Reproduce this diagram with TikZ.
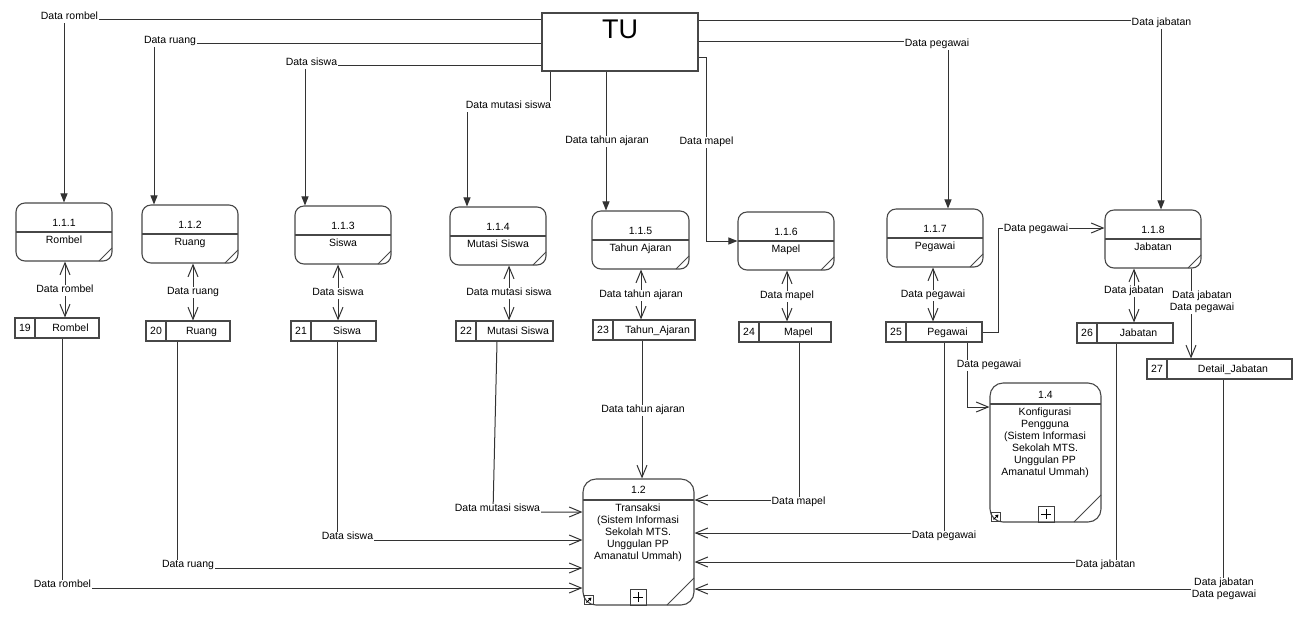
\documentclass[tikz,border=0pt]{standalone}
\usepackage{fontspec}
\setmainfont{Liberation Sans}
\usetikzlibrary{arrows.meta}
\tikzset{
  lbl/.style={font=\fontsize{10.5}{12}\selectfont, inner sep=0.6pt, fill=white, text height=7.6pt, text depth=2.2pt},
  lbltwo/.style={font=\fontsize{10.5}{12}\selectfont, inner sep=0.6pt, fill=white, align=center},
  txt/.style={font=\fontsize{10.5}{12}\selectfont, inner sep=0pt, text height=7.6pt, text depth=2.2pt},
  boxline/.style={draw=black!72, line width=1.1pt},
  foldline/.style={draw=black!72, line width=0.8pt},
  procbox/.style={boxline, rounded corners=9pt, inner sep=0pt},
  bigproc/.style={boxline, rounded corners=13pt, inner sep=0pt},
  storebox/.style={boxline, inner sep=0pt},
  conn/.style={draw=black!80, line width=1pt},
  farrow/.style={conn, -{Triangle[length=9pt,width=7pt]}},
  oarrow/.style={conn, -{Straight Barb[length=12pt,width=10pt]}},
  bidir/.style={conn, {Straight Barb[length=12pt,width=10pt]}-{Straight Barb[length=12pt,width=10pt]}},
}
\newcommand\ProcBox[8]{%
  \node[procbox, minimum width={(#4-#2)*1pt}, minimum height={(#5-#3)*1pt}] (#1) at ({(#2+#4)/2},{(#3+#5)/2}) {};
  \draw[boxline] (#2,#6) -- (#4,#6);
  \draw[foldline] (#4,{#5-13}) -- ({#4-13},#5);
  \node[txt] (#1-id) at ({(#2+#4)/2},{#6-8}) {#7};
  \node[txt] (#1-nm) at ({(#2+#4)/2},{#6+9}) {#8};
}
\newcommand\StoreBox[7]{%
  \node[storebox, minimum width={(#4-#2)*1pt}, minimum height={(#5-#3)*1pt}] (#1) at ({(#2+#4)/2},{(#3+#5)/2}) {};
  \draw[boxline] ({#2+20},#3) -- ({#2+20},#5);
  \node[txt] (#1-id) at ({#2+10},{(#3+#5)/2+1}) {#6};
  \node[txt] (#1-nm) at ({(#2+#4)/2+13.5},{(#3+#5)/2+1}) {#7};
}
\begin{document}
\begin{tikzpicture}[x=1pt,y=-1pt]
\useasboundingbox[fill=white] (0,0) rectangle (1303,625);

% external entity
\node[boxline, minimum width=156pt, minimum height=58pt, inner sep=0pt] (tu) at (620,42) {};
\node[font=\fontsize{27}{30}\selectfont, inner sep=0pt] (tut) at (620,29) {TU};

% processes
\ProcBox{p111}{16}{203}{112}{261}{232}{1.1.1}{Rombel}
\ProcBox{p112}{142}{205}{238}{263}{234}{1.1.2}{Ruang}
\ProcBox{p113}{295}{206}{391}{264}{235}{1.1.3}{Siswa}
\ProcBox{p114}{450}{207}{546}{265}{236}{1.1.4}{Mutasi Siswa}
\ProcBox{p115}{592}{211}{689}{269}{240}{1.1.5}{Tahun Ajaran}
\ProcBox{p116}{738}{212}{834}{270}{241}{1.1.6}{Mapel}
\ProcBox{p117}{887}{209}{983}{267}{238}{1.1.7}{Pegawai}
\ProcBox{p118}{1105}{210}{1201}{268}{239}{1.1.8}{Jabatan}

% data stores
\StoreBox{s19}{15}{318}{99}{338}{19}{Rombel}
\StoreBox{s20}{146}{321}{230}{341}{20}{Ruang}
\StoreBox{s21}{291}{321}{376}{341}{21}{Siswa}
\StoreBox{s22}{456}{321}{553}{341}{22}{Mutasi Siswa}
\StoreBox{s23}{593}{320}{695}{340}{23}{Tahun\_Ajaran}
\StoreBox{s24}{739}{322}{831}{342}{24}{Mapel}
\StoreBox{s25}{886}{322}{982}{342}{25}{Pegawai}
\StoreBox{s26}{1077}{323}{1173}{343}{26}{Jabatan}
\StoreBox{s27}{1147}{359}{1292}{379}{27}{Detail\_Jabatan}

% process 1.2
\node[bigproc, minimum width=111pt, minimum height=126pt] (p12) at (638.5,542) {};
\draw[boxline] (583,500) -- (694,500);
\draw[foldline] (694,578) -- (667,605);
\node[txt] (p12-id) at (638.5,491) {1.2};
\node[txt] (p12-a) at (638,509) {Transaksi};
\node[txt] (p12-b) at (638,521) {(Sistem Informasi};
\node[txt] (p12-c) at (638,533) {Sekolah MTS.};
\node[txt] (p12-d) at (638,545) {Unggulan PP};
\node[txt] (p12-e) at (638,557) {Amanatul Ummah)};
\node[draw=black!75, line width=0.9pt, minimum size=16pt, inner sep=0pt] (p12-plus) at (638,597) {};
\draw[line width=0.9pt] (633,597) -- (643,597) (638,592) -- (638,602);
\node[draw=black!75, line width=0.6pt, minimum size=9pt, inner sep=0pt] (p12-icon) at (589,600) {};
\draw[line width=0.8pt, -{Triangle[length=3pt,width=3.5pt]}] (586.5,602.5) -- (591.5,597.5);

% process 1.4
\node[bigproc, minimum width=111pt, minimum height=139pt] (p14) at (1045.5,452.5) {};
\draw[boxline] (990,404) -- (1101,404);
\draw[foldline] (1101,495) -- (1074,522);
\node[txt] (p14-id) at (1045.5,396) {1.4};
\node[txt] (p14-a) at (1045,413) {Konfigurasi};
\node[txt] (p14-b) at (1045,425) {Pengguna};
\node[txt] (p14-c) at (1045,437) {(Sistem Informasi};
\node[txt] (p14-d) at (1045,449) {Sekolah MTS.};
\node[txt] (p14-e) at (1045,461) {Unggulan PP};
\node[txt] (p14-f) at (1045,473) {Amanatul Ummah)};
\node[draw=black!75, line width=0.9pt, minimum size=16pt, inner sep=0pt] (p14-plus) at (1046,514) {};
\draw[line width=0.9pt] (1041,514) -- (1051,514) (1046,509) -- (1046,519);
\node[draw=black!75, line width=0.6pt, minimum size=9pt, inner sep=0pt] (p14-icon) at (996,517) {};
\draw[line width=0.8pt, -{Triangle[length=3pt,width=3.5pt]}] (993.5,519.5) -- (998.5,514.5);

% flows from TU
\draw[farrow] (tu.west |- 0,19) -- (64,19) -- (64,0 |- p111.north);
\draw[farrow] (tu.west |- 0,43) -- (154,43) -- (154,0 |- p112.north);
\draw[farrow] (tu.west |- 0,65) -- (305,65) -- (305,0 |- p113.north);
\draw[farrow] (550,0 |- tu.south) -- (550,105) -- (467,105) -- (467,0 |- p114.north);
\draw[farrow] (606,0 |- tu.south) -- (606,0 |- p115.north);
\draw[farrow] (tu.east |- 0,57) -- (706,57) -- (706,241) -- (p116.west |- 0,241);
\draw[farrow] (tu.east |- 0,20) -- (1161,20) -- (1161,0 |- p118.north);
\draw[farrow] (tu.east |- 0,41) -- (948,41) -- (948,0 |- p117.north);

% process <-> store
\draw[bidir] (65,0 |- p111.south) -- (65,0 |- s19.north);
\draw[bidir] (193,0 |- p112.south) -- (193,0 |- s20.north);
\draw[bidir] (338,0 |- p113.south) -- (338,0 |- s21.north);
\draw[bidir] (509,0 |- p114.south) -- (509,0 |- s22.north);
\draw[bidir] (641,0 |- p115.south) -- (641,0 |- s23.north);
\draw[bidir] (787,0 |- p116.south) -- (787,0 |- s24.north);
\draw[bidir] (933,0 |- p117.south) -- (933,0 |- s25.north);
\draw[bidir] (1134,0 |- p118.south) -- (1134,0 |- s26.north);
\draw[oarrow] (1191,0 |- p118.south) -- (1191,0 |- s27.north);
\draw[oarrow] (s25.east) -- (998,0 |- s25.east) -- (998,228) -- (p118.west |- 0,228);
\draw[oarrow] (967,0 |- s25.south) -- (967,407) -- (p14.west |- 0,407);

% stores -> 1.2
\draw[oarrow] (642,0 |- s23.south) -- (642,0 |- p12.north);
\draw[oarrow] (497,0 |- s22.south) -- (493,512) -- (p12.west |- 0,512);
\draw[oarrow] (337,0 |- s21.south) -- (337,540) -- (p12.west |- 0,540);
\draw[oarrow] (177,0 |- s20.south) -- (177,568) -- (p12.west |- 0,568);
\draw[oarrow] (62,0 |- s19.south) -- (62,588) -- (p12.west |- 0,588);
\draw[oarrow] (799,0 |- s24.south) -- (799,500) -- (p12.east |- 0,500);
\draw[oarrow] (944,0 |- s25.south) -- (944,533) -- (p12.east |- 0,533);
\draw[oarrow] (1116,0 |- s26.south) -- (1116,562) -- (p12.east |- 0,562);
\draw[oarrow] (1223,0 |- s27.south) -- (1223,589) -- (p12.east |- 0,589);

% labels
\node[lbl] (l1) at (69.5,17) {Data rombel};
\node[lbl] (l2) at (170,41) {Data ruang};
\node[lbl] (l3) at (311.5,63) {Data siswa};
\node[lbl] (l4) at (508.5,106) {Data mutasi siswa};
\node[lbl] (l5) at (607,141) {Data tahun ajaran};
\node[lbl] (l6) at (706.5,142) {Data mapel};
\node[lbl] (l7) at (1161.5,23) {Data jabatan};
\node[lbl] (l8) at (937,44) {Data pegawai};
\node[lbl] (l9) at (65,290) {Data rombel};
\node[lbl] (l10) at (193,292) {Data ruang};
\node[lbl] (l11) at (338,293) {Data siswa};
\node[lbl] (l12) at (509,293) {Data mutasi siswa};
\node[lbl] (l13) at (641,295) {Data tahun ajaran};
\node[lbl] (l14) at (787,296) {Data mapel};
\node[lbl] (l15) at (933,295) {Data pegawai};
\node[lbl] (l16) at (1134,291) {Data jabatan};
\node[lbltwo] (l17) at (1202,302) {Data jabatan\\Data pegawai};
\node[lbl] (l18) at (1036,229) {Data pegawai};
\node[lbl] (l19) at (989,365) {Data pegawai};
\node[lbl] (l20) at (643,410) {Data tahun ajaran};
\node[lbl] (l21) at (497.5,509) {Data mutasi siswa};
\node[lbl] (l22) at (347.5,537) {Data siswa};
\node[lbl] (l23) at (188,565) {Data ruang};
\node[lbl] (l24) at (62.5,585) {Data rombel};
\node[lbl] (l25) at (798.5,502) {Data mapel};
\node[lbl] (l26) at (944,536) {Data pegawai};
\node[lbl] (l27) at (1105.5,565) {Data jabatan};
\node[lbltwo] (l28) at (1224,589) {Data jabatan\\Data pegawai};
\end{tikzpicture}
\end{document}
